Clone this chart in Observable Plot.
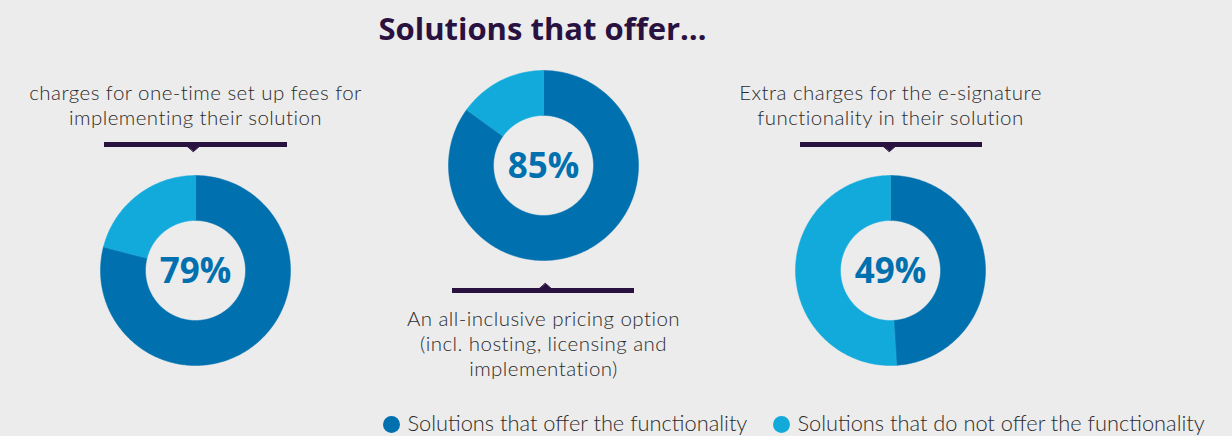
<!DOCTYPE html>
<html>
<head>
<meta charset="utf-8">
<script src="https://cdn.jsdelivr.net/npm/d3@7"></script>
<script src="https://cdn.jsdelivr.net/npm/@observablehq/plot@0.6"></script>
<style>
  html, body { margin: 0; padding: 0; background: #ececec; }
  #chart svg { display: block; }
  .donut-label text { letter-spacing: 0.45px; }
</style>
</head>
<body>
<div id="chart"></div>
<script>
// ---- data ----
const charts = ["setup", "allin", "esign"];
const offerShare = [79, 85, 49];               // % of solutions that offer the functionality
const percentLabels = ["79%", "85%", "49%"];
const chartLabels = [
  ["charges for one-time set up fees for", "implementing their solution"],
  ["An all-inclusive pricing option", "(incl. hosting, licensing and", "implementation)"],
  ["Extra charges for the e-signature", "functionality in their solution"]
];
const seriesNames = ["Solutions that offer the functionality", "Solutions that do not offer the functionality"];
const seriesColors = ["#0070ae", "#12aadb"];
const titleText = "Solutions that offer\u2026";

// ---- layout (pixel space) ----
const W = 1232, H = 436;
const centers = [[195, 270], [543, 165], [890, 270]];
const R_OUT = 95, R_IN = 50;
const FONT = "'Open Sans', sans-serif";
const LFONT = "Lato, 'Open Sans', sans-serif";
const TXT = "#2b2b2b";
const PURPLE = "#2a1240";
const LABEL_SIZE = 20.5, LINE_GAP = 25;

// build donut slice polygons from the data
const slicePts = [];
charts.forEach((c, i) => {
  const [cx, cy] = centers[i];
  const shares = [offerShare[i], 100 - offerShare[i]];
  let start = 0;
  shares.forEach((v, s) => {
    const a0 = start / 100 * 2 * Math.PI, a1 = (start + v) / 100 * 2 * Math.PI;
    const n = Math.max(2, Math.ceil((a1 - a0) / (Math.PI / 180)));
    const id = c + "-" + s;
    for (let k = 0; k <= n; k++) {
      const a = a0 + (a1 - a0) * k / n;
      slicePts.push({id, series: seriesNames[s], x: cx + R_OUT * Math.sin(a), y: cy - R_OUT * Math.cos(a)});
    }
    for (let k = n; k >= 0; k--) {
      const a = a0 + (a1 - a0) * k / n;
      slicePts.push({id, series: seriesNames[s], x: cx + R_IN * Math.sin(a), y: cy - R_IN * Math.cos(a)});
    }
    start += v;
  });
});

// label blocks (first line centre y)
const firstLineY = [91, 317, 91];
const labelBlocks = chartLabels.map((lines, i) => ({
  text: lines.join("\n"),
  x: centers[i][0],
  y: firstLineY[i] + (lines.length - 1) * LINE_GAP / 2
}));

// brackets
const brackets = [
  {x1: 104, x2: 287, y: 144, tx: 193, dir: "down"},
  {x1: 452, x2: 634, y: 290, tx: 545, dir: "up"},
  {x1: 800, x2: 982, y: 144, tx: 889, dir: "down"}
];
const notchPts = [];
brackets.forEach((b, i) => {
  const s = b.dir === "down" ? 1 : -1;
  notchPts.push({id: i, x: b.tx - 8, y: b.y});
  notchPts.push({id: i, x: b.tx + 8, y: b.y});
  notchPts.push({id: i, x: b.tx, y: b.y + s * 7});
});

const legendItems = seriesNames.map((n, i) => ({name: n, x: [391, 781][i], y: 424}));

const plot = Plot.plot({
  width: W, height: H,
  margin: 0,
  style: {background: "#ececec", fontFamily: FONT},
  x: {domain: [0, W], range: [0, W], axis: null},
  y: {domain: [0, H], range: [0, H], axis: null},
  color: {domain: seriesNames, range: seriesColors},
  marks: [
    Plot.line(slicePts, {x: "x", y: "y", z: "id", fill: "series", stroke: "series", strokeWidth: 0.5, curve: "linear-closed"}),
    Plot.text(percentLabels, {x: (d, i) => centers[i][0], y: (d, i) => centers[i][1] + 1, text: d => d,
      fill: "#0070ae", fontSize: 35, fontWeight: "bold", fontFamily: FONT}),
    Plot.text([titleText], {x: 542, y: 30, text: d => d, fill: PURPLE, fontSize: 31, fontWeight: "bold", fontFamily: FONT}),
    Plot.text(labelBlocks, {x: "x", y: "y", text: "text", fill: TXT, fontSize: LABEL_SIZE, className: "donut-label",
      lineHeight: LINE_GAP / LABEL_SIZE, fontWeight: 300, fontFamily: LFONT}),
    Plot.ruleY(brackets, {x1: "x1", x2: "x2", y: "y", stroke: PURPLE, strokeWidth: 5}),
    Plot.line(notchPts, {x: "x", y: "y", z: "id", fill: PURPLE, stroke: PURPLE, strokeWidth: 1, curve: "linear-closed"}),
    Plot.dot(legendItems, {x: "x", y: "y", fill: "name", r: 8.5}),
    Plot.text(legendItems, {x: d => d.x + 16, y: "y", text: "name", textAnchor: "start", fill: TXT, fontSize: 21.8, fontWeight: 300, fontFamily: LFONT})
  ]
});
document.getElementById("chart").appendChild(plot);
</script>
</body>
</html>
